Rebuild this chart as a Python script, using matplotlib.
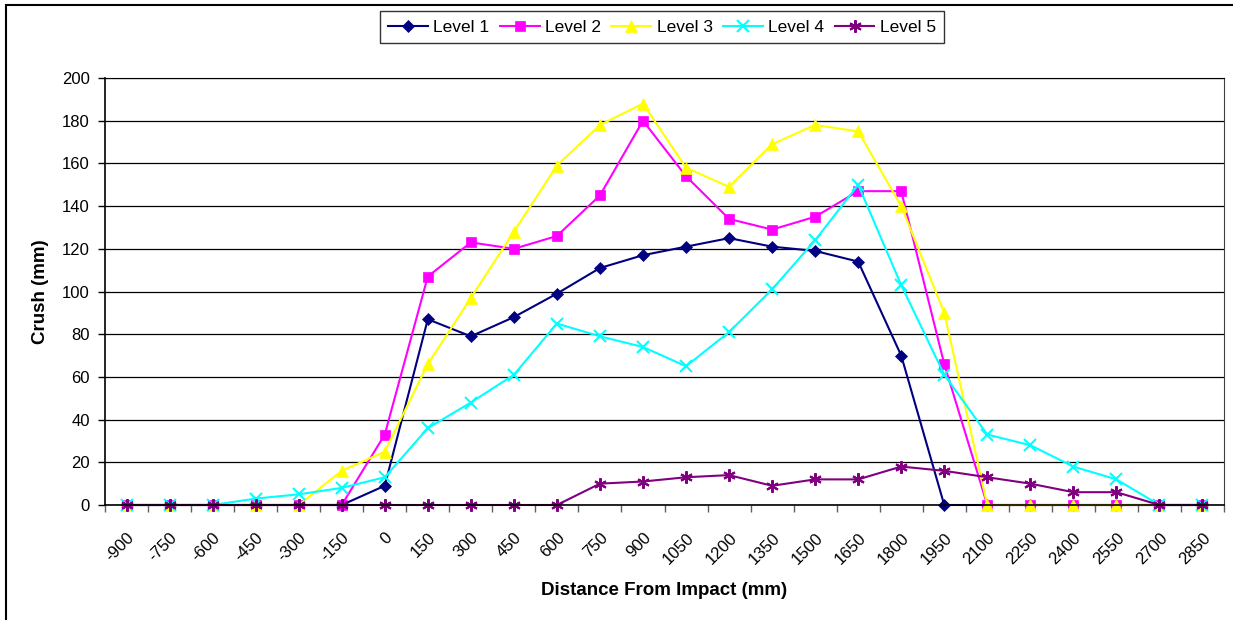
import matplotlib.pyplot as plt
import matplotlib.transforms as mtransforms
import numpy as np
from matplotlib.patches import Rectangle

plt.rcParams['font.family'] = ['Liberation Sans', 'DejaVu Sans']

# Категорії по осі X (відстань від удару, мм)
distance = list(range(-900, 2851, 150))

# Значення деформації для кожного рівня (мм)
level1 = [0, 0, 0, 0, 0, 0, 9, 87, 79, 88, 99, 111, 117, 121, 125, 121, 119, 114, 70, 0, 0, 0, 0, 0, 0, 0]
level2 = [0, 0, 0, 0, 0, 0, 33, 107, 123, 120, 126, 145, 180, 154, 134, 129, 135, 147, 147, 66, 0, 0, 0, 0, 0, 0]
level3 = [0, 0, 0, 0, 0, 16, 25, 66, 97, 128, 159, 178, 188, 158, 149, 169, 178, 175, 140, 90, 0, 0, 0, 0, 0, 0]
level4 = [0, 0, 0, 3, 5, 8, 13, 36, 48, 61, 85, 79, 74, 65, 81, 101, 124, 150, 103, 61, 33, 28, 18, 12, 0, 0]
level5 = [0, 0, 0, 0, 0, 0, 0, 0, 0, 0, 0, 10, 11, 13, 14, 9, 12, 12, 18, 16, 13, 10, 6, 6, 0, 0]

series = [
    ('Level 1', level1, '#000080', 'D', 6),
    ('Level 2', level2, '#FF00FF', 's', 7),
    ('Level 3', level3, '#FFFF00', '^', 8),
    ('Level 4', level4, '#00FFFF', 'x', 8),
    ('Level 5', level5, '#800080', (6, 2, 0), 9),
]

fig = plt.figure(figsize=(12.33, 6.2), dpi=100)
ax = fig.add_axes([105 / 1233, 115 / 620, 1119 / 1233, 427 / 620])

x = np.arange(len(distance))
for name, vals, col, mk, ms in series:
    ax.plot(x, vals, color=col, marker=mk, markersize=ms, linewidth=1.5,
            markeredgewidth=1.5 if mk in ('x', (6, 2, 0)) else 0.5,
            markeredgecolor=col, label=name, clip_on=False)

# Осі
ax.set_xlim(-0.5, len(distance) - 0.5)
ax.set_ylim(0, 200)
ax.set_yticks(np.arange(0, 201, 20))
ax.yaxis.grid(True, color='black', linewidth=0.9)
ax.set_axisbelow(True)

ax.set_xticks(x)
ax.set_xticklabels([str(d) for d in distance], rotation=45, ha='right',
                   rotation_mode='anchor', fontsize=12)
shift = mtransforms.ScaledTranslation(-9 / 100, 0, fig.dpi_scale_trans)
for lbl in ax.get_xticklabels():
    lbl.set_transform(lbl.get_transform() + shift)
ax.set_xticks(np.arange(-0.5, len(distance)), minor=True)
ax.tick_params(axis='x', which='major', length=0, pad=18)
ax.tick_params(axis='x', which='minor', length=5, direction='out', width=1, color='#606060')
ax.tick_params(axis='y', length=5, direction='out', width=1, labelsize=12, pad=6)

for s in ['left', 'bottom']:
    ax.spines[s].set_color('black')
    ax.spines[s].set_linewidth(1.2)
ax.spines['top'].set_color('black')
ax.spines['right'].set_color('#404040')

ax.set_xlabel('Distance From Impact (mm)', fontweight='bold', fontsize=13.5, labelpad=11)
ax.set_ylabel('Crush (mm)', fontweight='bold', fontsize=13.5, labelpad=9)

leg = fig.legend(loc='center', bbox_to_anchor=(662 / 1233, 1 - 27 / 620), ncol=5,
                 frameon=True, fancybox=False, edgecolor='black', fontsize=12.5,
                 handlelength=2.3, handletextpad=0.3, columnspacing=0.6,
                 borderpad=0.5, borderaxespad=0)
leg.get_frame().set_linewidth(1)

# Рамка навколо всього графіка
fig.patches.append(Rectangle((6 / 1233, -0.1), 1.2, 1.1 - 5 / 620,
                             transform=fig.transFigure, fill=False,
                             edgecolor='black', linewidth=1.5))

fig.savefig('out.png', dpi=100)
